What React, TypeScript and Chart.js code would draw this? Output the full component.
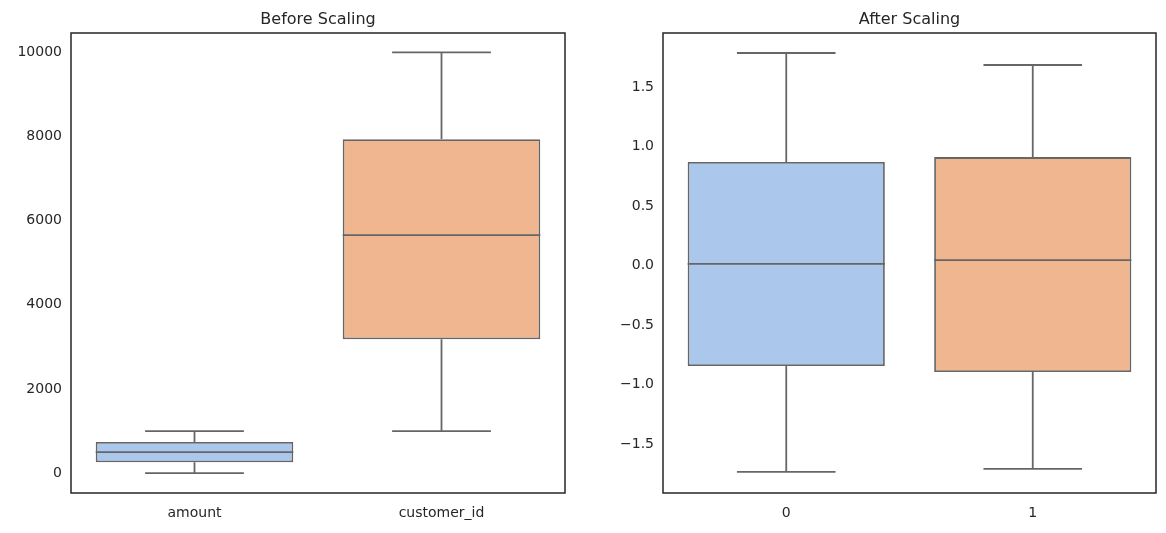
import React, { useEffect, useRef } from "react";
import { Chart, registerables } from "chart.js";
Chart.register(...registerables);

const leftCats = ["amount", "customer_id"];
const leftMin = [0, 1000];
const leftQ1 = [260, 3180];
const leftMed = [500, 5650];
const leftQ3 = [740, 7930];
const leftMax = [1000, 9990];
const leftTicks = [0, 2000, 4000, 6000, 8000, 10000];

const rightCats = ["0", "1"];
const rightMin = [-1.735, -1.71];
const rightQ1 = [-0.845, -0.895];
const rightMed = [0.013, 0.046];
const rightQ3 = [0.87, 0.911];
const rightMax = [1.786, 1.685];
const rightTicks = [-1.5, -1.0, -0.5, 0.0, 0.5, 1.0, 1.5];

const colors = ["#abc8ec", "#f0b68f"];
const FONT = "'DejaVu Sans', sans-serif";

function makeChart(canvas: HTMLCanvasElement, cfg: any) {
  const { cats, mins, q1, med, q3, maxs, ticks, ymin, ymax, title, yw, padR, fmt } = cfg;
  const boxPlugin = {
    id: "box",
    afterDatasetsDraw(chart: any) {
      const ctx = chart.ctx;
      const x = chart.scales.x, y = chart.scales.y;
      const meta = chart.getDatasetMeta(0);
      ctx.save();
      ctx.strokeStyle = "#666666";
      ctx.lineWidth = 1.8;
      cats.forEach((_: string, i: number) => {
        const bar = meta.data[i];
        const cx = x.getPixelForValue(i);
        const hw = bar.width / 2;
        const line = (x1: number, y1: number, x2: number, y2: number) => {
          ctx.beginPath(); ctx.moveTo(x1, y1); ctx.lineTo(x2, y2); ctx.stroke();
        };
        line(cx, y.getPixelForValue(q3[i]), cx, y.getPixelForValue(maxs[i]));
        line(cx, y.getPixelForValue(q1[i]), cx, y.getPixelForValue(mins[i]));
        line(cx - hw / 2, y.getPixelForValue(maxs[i]), cx + hw / 2, y.getPixelForValue(maxs[i]));
        line(cx - hw / 2, y.getPixelForValue(mins[i]), cx + hw / 2, y.getPixelForValue(mins[i]));
        line(cx - hw, y.getPixelForValue(med[i]), cx + hw, y.getPixelForValue(med[i]));
      });
      const a = chart.chartArea;
      ctx.strokeStyle = "#262626";
      ctx.lineWidth = 1.5;
      ctx.strokeRect(a.left, a.top, a.right - a.left, a.bottom - a.top);
      ctx.fillStyle = "#262626";
      ctx.font = `16px ${FONT}`;
      ctx.textAlign = "center";
      ctx.textBaseline = "bottom";
      ctx.fillText(title, (a.left + a.right) / 2, a.top - 5);
      ctx.restore();
    },
  };
  return new Chart(canvas, {
    type: "bar",
    data: {
      labels: cats,
      datasets: [{
        data: cats.map((_: string, i: number) => [q1[i], q3[i]]),
        backgroundColor: colors,
        borderColor: "#666666",
        borderWidth: 1.8,
        borderSkipped: false,
        categoryPercentage: 1,
        barPercentage: 0.8,
      }],
    },
    plugins: [boxPlugin],
    options: {
      animation: false,
      responsive: false,
      layout: { padding: { top: 33, right: padR, left: 0, bottom: 0 } },
      plugins: { legend: { display: false }, tooltip: { enabled: false } },
      scales: {
        x: {
          grid: { display: false, drawTicks: false },
          border: { display: false },
          ticks: { color: "#262626", font: { family: FONT, size: 14 }, padding: 12 },
          afterFit: (s: any) => { s.height = 40; },
        },
        y: {
          min: ymin, max: ymax,
          grid: { display: false, drawTicks: false },
          border: { display: false },
          afterBuildTicks: (s: any) => { s.ticks = ticks.map((v: number) => ({ value: v })); },
          ticks: { color: "#262626", font: { family: FONT, size: 14 }, padding: 9, callback: (v: any) => fmt(v) },
          afterFit: (s: any) => { s.width = yw; },
        },
      },
    },
  });
}

export default function App() {
  const l = useRef<HTMLCanvasElement>(null);
  const r = useRef<HTMLCanvasElement>(null);
  useEffect(() => {
    const c1 = makeChart(l.current!, {
      cats: leftCats, mins: leftMin, q1: leftQ1, med: leftMed, q3: leftQ3, maxs: leftMax,
      ticks: leftTicks, ymin: -470, ymax: 10450, title: "Before Scaling", yw: 71, padR: 15,
      fmt: (v: number) => String(v),
    });
    const c2 = makeChart(r.current!, {
      cats: rightCats, mins: rightMin, q1: rightQ1, med: rightMed, q3: rightQ3, maxs: rightMax,
      ticks: rightTicks, ymin: -1.912, ymax: 1.954, title: "After Scaling", yw: 80, padR: 10,
      fmt: (v: number) => v.toFixed(1).replace("-", "\u2212"),
    });
    return () => { c1.destroy(); c2.destroy(); };
  }, []);
  return (
    <div style={{ position: "absolute", left: 0, top: 0, width: 1166, height: 533, background: "#fff" }}>
      <canvas ref={l} width={580} height={533} style={{ position: "absolute", left: 0, top: 0, width: 580, height: 533 }} />
      <canvas ref={r} width={583} height={533} style={{ position: "absolute", left: 583, top: 0, width: 583, height: 533 }} />
    </div>
  );
}
